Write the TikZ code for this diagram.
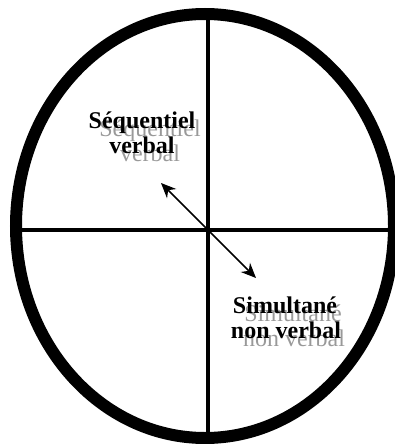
\documentclass[tikz,border=0pt]{standalone}
\usepackage{fontspec}
\setmainfont{Liberation Serif}
\usetikzlibrary{arrows.meta}
\begin{document}
\begin{tikzpicture}[x=1pt,y=-1pt,
  lbl/.style={font=\fontsize{24}{25}\selectfont\bfseries,inner sep=0pt,anchor=base},
  ghost/.style={font=\fontsize{24}{25}\selectfont,text=black!40,inner sep=0pt,anchor=base},
  >={Stealth[length=15pt,width=13pt]}]
\useasboundingbox (0,0) rectangle (394,444);
\coordinate (top) at (208,14);
\coordinate (bot) at (208,438);
\coordinate (lft) at (17,230);
\coordinate (rgt) at (393,230);
\draw[line width=4pt] (top)--(bot);
\draw[line width=4pt] (lft)--(rgt);
\draw[line width=12pt] (205,226) ellipse [x radius=189,y radius=212];
% grey copies under the labels
\node[ghost] (g1) at (150,136) {Séquentiel};
\node[ghost] (g2) at (150,161) {verbal};
\node[ghost] (g3) at (293,321) {Simultané};
\node[ghost] (g4) at (294,346) {non verbal};
\node[lbl] (seq1) at (142,128) {Séquentiel};
\node[lbl] (seq2) at (142,153) {verbal};
\node[lbl] (sim1) at (285,313) {Simultané};
\node[lbl] (sim2) at (286,338) {non verbal};
\coordinate (a) at (161,183);
\coordinate (b) at (256,278);
\draw[line width=1.5pt,<->] (a)--(b);
\end{tikzpicture}
\end{document}
